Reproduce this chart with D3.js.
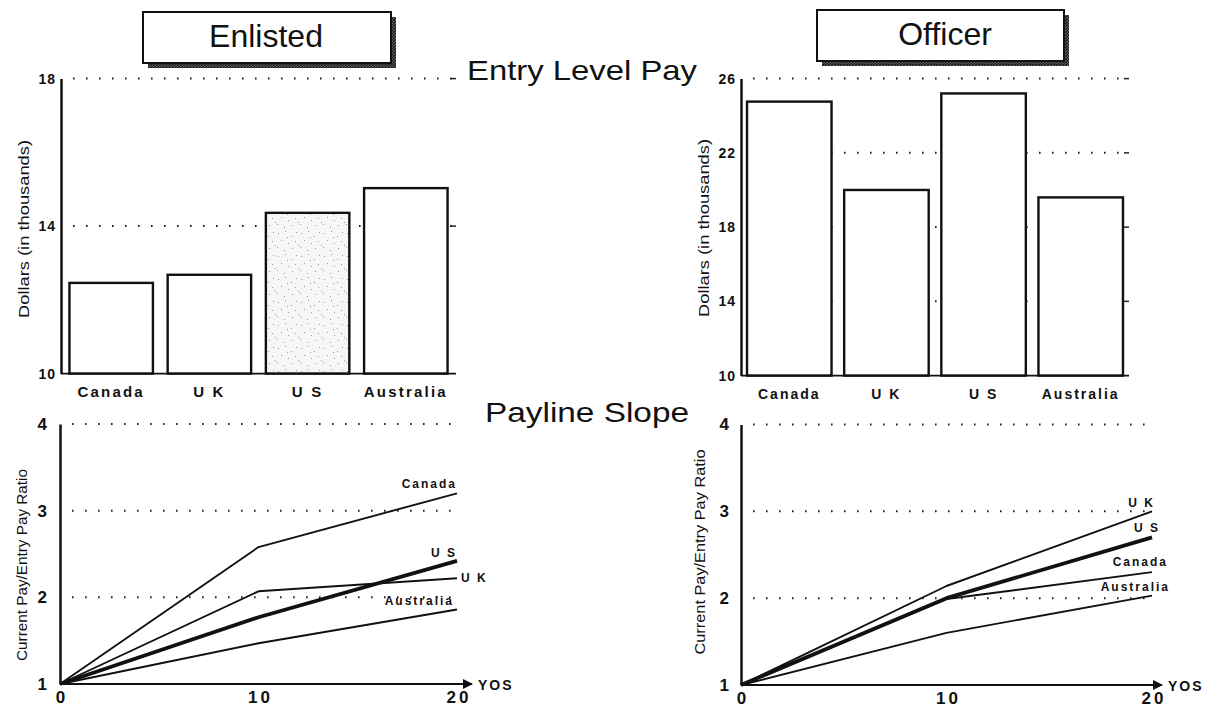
<!DOCTYPE html>
<html>
<head>
<meta charset="utf-8">
<script src="https://cdn.jsdelivr.net/npm/d3@7"></script>
<style>
  body { margin: 0; background: #fff; }
  svg { display: block; font-family: "Liberation Sans", Arial, Helvetica, sans-serif; }
  .tick-label { font-weight: bold; fill: #111; }
  .cat-label { font-weight: bold; fill: #111; }
  .axis-title { fill: #111; }
  .series-label { font-weight: bold; font-size: 12px; letter-spacing: 2px; fill: #111; }
</style>
</head>
<body>
<script>
// entry level pay, thousands of dollars
var categories = ["Canada", "U K", "U S", "Australia"];
var enlistedPay = [12.46, 12.68, 14.36, 15.03];
var officerPay = [24.76, 20.0, 25.2, 19.6];
var enlistedPayTicks = [10, 14, 18];
var officerPayTicks = [10, 14, 18, 22, 26];

// payline slope: current pay / entry pay at 0, 10, 20 years of service
var yos = [0, 10, 20];
var ratioTicks = [1, 2, 3, 4];
var lineNames = ["Canada", "U K", "U S", "Australia"];
var enlistedCanada = [1, 2.58, 3.2];
var enlistedUK = [1, 2.07, 2.22];
var enlistedUS = [1, 1.77, 2.42];
var enlistedAustralia = [1, 1.47, 1.86];
var officerCanada = [1, 1.99, 2.3];
var officerUK = [1, 2.14, 3.0];
var officerUS = [1, 2.0, 2.7];
var officerAustralia = [1, 1.6, 2.03];

var svg = d3.select("body").append("svg")
  .attr("width", 1225)
  .attr("height", 709);

var defs = svg.append("defs");

// stipple for the U S enlisted bar
var stip = defs.append("pattern")
  .attr("id", "stipple")
  .attr("patternUnits", "userSpaceOnUse")
  .attr("width", 23).attr("height", 23);
stip.append("rect").attr("width", 23).attr("height", 23).attr("fill", "#f6f6f6");
[[2, 3], [9, 1], [15, 6], [20, 2], [5, 10], [12, 13], [19, 11], [1, 17], [8, 20], [16, 18], [22, 15], [11, 7]]
  .forEach(function (p) {
    stip.append("rect").attr("x", p[0]).attr("y", p[1]).attr("width", 1).attr("height", 1).attr("fill", "#9a9a9a");
  });

// hatched shadow for the title boxes
var hatch = defs.append("pattern")
  .attr("id", "hatch")
  .attr("patternUnits", "userSpaceOnUse")
  .attr("width", 3).attr("height", 3);
hatch.append("rect").attr("width", 3).attr("height", 3).attr("fill", "#666");
hatch.append("path").attr("d", "M0,3 L3,0").attr("stroke", "#111").attr("stroke-width", 1.3);

var arrow = defs.append("marker")
  .attr("id", "arrow")
  .attr("viewBox", "0 0 10 10")
  .attr("refX", 9).attr("refY", 5)
  .attr("markerWidth", 10).attr("markerHeight", 10)
  .attr("markerUnits", "userSpaceOnUse")
  .attr("orient", "auto");
arrow.append("path").attr("d", "M0,0 L10,5 L0,10 Z").attr("fill", "#111");

function titleBox(x0, y0, w, h, label, tx) {
  var g = svg.append("g");
  g.append("rect").attr("x", x0 + 5).attr("y", y0 + 5).attr("width", w).attr("height", h)
    .attr("fill", "url(#hatch)");
  g.append("rect").attr("x", x0).attr("y", y0).attr("width", w).attr("height", h)
    .attr("fill", "#fff").attr("stroke", "#111").attr("stroke-width", 2);
  g.append("text").attr("x", tx).attr("y", y0 + 35)
    .attr("text-anchor", "middle")
    .style("font-size", "32px").attr("fill", "#111")
    .text(label);
}

titleBox(143, 12, 248, 51, "Enlisted", 266);
titleBox(817, 10, 247, 51, "Officer", 945);

svg.append("text").attr("x", 467).attr("y", 80)
  .attr("textLength", 230).attr("lengthAdjust", "spacingAndGlyphs")
  .style("font-size", "28px").attr("fill", "#111")
  .text("Entry Level Pay");
svg.append("text").attr("x", 485).attr("y", 422)
  .attr("textLength", 204).attr("lengthAdjust", "spacingAndGlyphs")
  .style("font-size", "27px").attr("fill", "#111")
  .text("Payline Slope");

function dotted(g, x1, x2, y) {
  g.append("line")
    .attr("x1", x1).attr("x2", x2).attr("y1", y).attr("y2", y)
    .attr("stroke", "#222").attr("stroke-width", 2)
    .attr("stroke-dasharray", "1.6,11.4");
}

function yTitle(g, x, yc, len, label) {
  g.append("text")
    .attr("class", "axis-title")
    .attr("transform", "translate(" + x + "," + yc + ") rotate(-90)")
    .attr("text-anchor", "middle")
    .attr("textLength", len).attr("lengthAdjust", "spacingAndGlyphs")
    .style("font-size", "15px")
    .text(label);
}

function barPanel(opt) {
  var g = svg.append("g");
  var x = d3.scaleBand().domain(categories)
    .range([opt.x0, opt.x1]).paddingInner(opt.pi).paddingOuter(opt.po);
  var y = d3.scaleLinear().domain([10, opt.top]).range([opt.yb, opt.yt]);

  opt.ticks.slice(1).forEach(function (t) {
    dotted(g, opt.x0 + 12, opt.x1, y(t));
    g.append("line").attr("x1", opt.x1 - 5).attr("x2", opt.x1).attr("y1", y(t)).attr("y2", y(t))
      .attr("stroke", "#222").attr("stroke-width", 1.5);
  });

  g.selectAll(".bar")
    .data(opt.values)
    .enter().append("rect")
    .attr("class", "bar")
    .attr("x", function (d, i) { return x(categories[i]); })
    .attr("y", function (d) { return y(d); })
    .attr("width", x.bandwidth())
    .attr("height", function (d) { return y(10) - y(d); })
    .attr("fill", function (d, i) { return i === opt.stippled ? "url(#stipple)" : "#fff"; })
    .attr("stroke", "#111").attr("stroke-width", 2.4);

  var ax = d3.axisLeft(y).tickValues(opt.ticks).tickSize(0).tickPadding(5).tickFormat(d3.format("d"));
  var axg = g.append("g").attr("transform", "translate(" + opt.x0 + ",0)").call(ax);
  axg.select(".domain").attr("stroke", "#111").attr("stroke-width", 2.5);
  axg.selectAll("text").attr("class", "tick-label")
    .style("font-size", "14px").style("letter-spacing", "1px").attr("font-family", null);

  g.append("line").attr("x1", opt.x0).attr("x2", opt.x1)
    .attr("y1", y(10)).attr("y2", y(10))
    .attr("stroke", "#111").attr("stroke-width", 1.6);

  g.selectAll(".cat")
    .data(categories)
    .enter().append("text")
    .attr("class", "cat-label")
    .attr("x", function (d) { return x(d) + x.bandwidth() / 2; })
    .attr("y", y(10) + 23)
    .attr("text-anchor", "middle")
    .style("font-size", opt.catSize + "px")
    .style("letter-spacing", opt.catSpacing + "px")
    .text(function (d) { return d; });

  yTitle(g, opt.titleX, opt.titleY, 178, "Dollars (in thousands)");
}

barPanel({ x0: 61, x1: 456, yt: 78.6, yb: 373.6, top: 18, ticks: enlistedPayTicks,
  values: enlistedPay, pi: 0.15, po: 0.086, stippled: 2, catSize: 15, catSpacing: 2.2,
  titleX: 29, titleY: 229 });
barPanel({ x0: 741, x1: 1129, yt: 78.6, yb: 375.6, top: 26, ticks: officerPayTicks,
  values: officerPay, pi: 0.13, po: 0.062, stippled: -1, catSize: 14, catSpacing: 2,
  titleX: 709, titleY: 228 });

function linePanel(opt) {
  var g = svg.append("g");
  var x = d3.scaleLinear().domain([0, 20]).range([opt.x0, opt.x1]);
  var y = d3.scaleLinear().domain([1, 4]).range([opt.yb, opt.yt]);

  ratioTicks.slice(1).forEach(function (t) { dotted(g, opt.x0 + 12, opt.x1, y(t)); });

  var ax = d3.axisLeft(y).tickValues(ratioTicks).tickSize(0).tickPadding(opt.tickPad).tickFormat(d3.format("d"));
  var axg = g.append("g").attr("transform", "translate(" + opt.x0 + ",0)").call(ax);
  axg.select(".domain").attr("stroke", "#111").attr("stroke-width", 2.5);
  axg.selectAll("text").attr("class", "tick-label")
    .style("font-size", "17px").attr("font-family", null);

  g.append("line").attr("x1", opt.x0).attr("x2", opt.arrowX)
    .attr("y1", y(1)).attr("y2", y(1))
    .attr("stroke", "#111").attr("stroke-width", 1.8)
    .attr("marker-end", "url(#arrow)");
  g.append("text").attr("class", "tick-label")
    .attr("x", opt.arrowX + 6).attr("y", y(1) + 6)
    .style("font-size", "14px").style("letter-spacing", "2px")
    .text("YOS");

  g.selectAll(".xt")
    .data(yos)
    .enter().append("text")
    .attr("class", "tick-label")
    .attr("x", function (d) { return x(d) + 2; })
    .attr("y", opt.yb + 19)
    .attr("text-anchor", "middle")
    .style("font-size", "17px").style("letter-spacing", "3px")
    .text(function (d) { return d; });

  var line = d3.line()
    .x(function (d, i) { return x(yos[i]); })
    .y(function (d) { return y(d); });

  g.selectAll(".series")
    .data(opt.series)
    .enter().append("path")
    .attr("class", "series")
    .attr("d", function (d) { return line(d); })
    .attr("fill", "none")
    .attr("stroke", "#111")
    .attr("stroke-linejoin", "round")
    .attr("stroke-width", function (d, i) { return lineNames[i] === "U S" ? 3.8 : 1.9; });

  g.selectAll(".series-label")
    .data(opt.series)
    .enter().append("text")
    .attr("class", "series-label")
    .attr("x", function (d, i) { return x(20) + opt.labels[i][1]; })
    .attr("y", function (d, i) { return y(d[2]) + opt.labels[i][2]; })
    .attr("text-anchor", function (d, i) { return opt.labels[i][0]; })
    .text(function (d, i) { return lineNames[i]; });

  yTitle(g, opt.titleX, opt.titleY, opt.titleLen, "Current Pay/Entry Pay Ratio");
}

linePanel({ x0: 60, x1: 457, yt: 424, yb: 684, arrowX: 472, tickPad: 13,
  series: [enlistedCanada, enlistedUK, enlistedUS, enlistedAustralia],
  labels: [["end", 0, -5], ["start", 4, 4], ["end", 0, -4], ["end", -3, -4]],
  titleX: 27, titleY: 565, titleLen: 192 });
linePanel({ x0: 741, x1: 1152, yt: 424.5, yb: 685, arrowX: 1162, tickPad: 12,
  series: [officerCanada, officerUK, officerUS, officerAustralia],
  labels: [["end", 16, -6], ["end", 3, -4], ["end", 8, -5], ["end", 18, -5]],
  titleX: 705, titleY: 552, titleLen: 205 });
</script>
</body>
</html>
